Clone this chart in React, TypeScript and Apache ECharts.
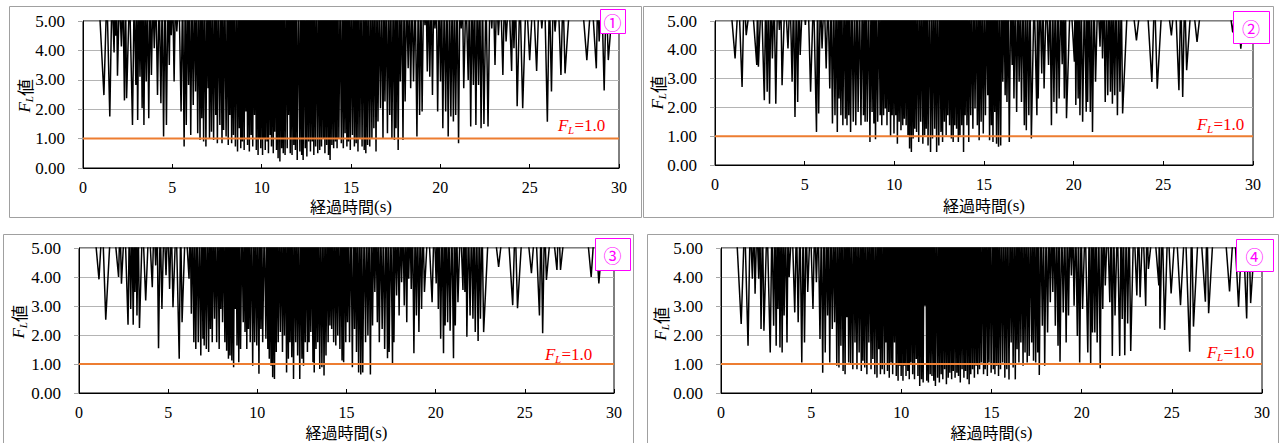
import React, { useEffect, useRef } from "react";
import * as echarts from "echarts";

// ---- data (dip minima of FL; between dips FL is off-scale, above 5) ----
const P1_T = [1.17,1.5,1.74,1.83,1.93,2.15,2.32,2.44,2.77,2.96,3.06,3.19,3.31,3.41,3.54,3.68,3.83,3.99,4.17,4.36,4.51,4.67,4.83,4.94,5.1,5.25,5.49,5.66,5.78,5.91,6.03,6.17,6.3,6.42,6.55,6.65,6.75,6.88,7.0,7.08,7.19,7.31,7.43,7.52,7.66,7.78,7.87,8.01,8.13,8.22,8.32,8.42,8.53,8.65,8.75,8.83,8.92,9.02,9.12,9.21,9.31,9.41,9.5,9.6,9.7,9.8,9.87,9.95,10.05,10.13,10.2,10.3,10.38,10.48,10.55,10.65,10.73,10.83,10.92,11.02,11.12,11.21,11.31,11.43,11.5,11.6,11.7,11.8,11.89,11.99,12.14,12.24,12.32,12.44,12.53,12.63,12.73,12.83,12.92,13.02,13.14,13.25,13.35,13.45,13.54,13.64,13.74,13.83,13.93,14.03,14.13,14.22,14.32,14.46,14.57,14.67,14.77,14.86,14.96,15.08,15.19,15.29,15.39,15.5,15.62,15.74,15.83,15.93,16.05,16.17,16.28,16.4,16.51,16.65,16.79,16.9,17.04,17.17,17.29,17.43,17.52,17.64,17.76,17.91,18.03,18.2,18.34,18.5,18.69,18.84,18.98,19.14,19.27,19.41,19.56,19.7,19.85,20.01,20.14,20.3,20.44,20.59,20.73,20.86,21.02,21.17,21.31,21.56,21.7,21.85,21.99,22.14,22.28,22.44,22.67,22.88,23.06,23.25,23.5,23.68,23.99,24.12,24.3,24.61,25.0,25.39,25.68,25.99,26.22,26.42,26.75,26.98,28.2,28.73,28.89,29.17,29.4];
const P1_V = [2.48,1.75,3.93,4.5,3.14,4.13,2.3,2.37,1.46,2.82,1.63,3.1,2.03,1.46,2.94,1.69,3.16,4.07,2.48,2.2,1.07,1.46,3.5,4.52,2.94,4.64,1.92,0.73,1.46,2.82,1.12,2.14,2.6,1.18,0.95,1.69,0.9,0.73,2.71,1.01,1.23,0.95,1.8,0.84,1.46,0.84,1.29,1.07,0.78,1.8,0.84,1.12,0.73,0.56,1.35,0.67,0.9,0.61,1.92,0.78,0.56,1.12,0.73,1.8,0.61,0.44,1.01,0.67,0.44,1.01,0.61,0.9,0.5,1.12,0.73,0.5,1.23,0.61,0.33,0.22,0.67,0.5,0.44,0.67,1.8,0.5,0.44,0.78,0.61,0.27,0.56,0.44,0.27,0.67,0.39,0.9,0.56,0.9,0.44,0.73,0.5,0.61,0.73,1.01,0.5,0.78,0.44,0.27,0.78,0.67,0.9,0.67,1.01,0.84,0.67,1.18,0.73,0.9,0.61,1.12,0.73,0.84,0.56,1.01,0.73,0.61,0.5,0.78,0.73,1.01,1.35,0.56,1.58,2.03,1.01,2.26,1.18,1.8,1.01,0.95,1.35,0.61,2.94,0.95,2.26,3.39,2.71,2.94,1.07,1.8,1.92,4.86,3.28,3.1,2.48,4.75,1.92,2.94,1.35,1.92,1.07,1.75,1.58,1.8,0.84,4.75,2.71,2.99,1.41,2.82,1.46,2.82,1.35,1.5,1.41,4.75,3.5,4.52,3.16,4.3,3.3,4.07,2.1,2.03,3.67,3.3,4.75,1.57,2.6,4.64,3.16,3.22,3.67,3.39,4.3,2.64,3.67];

const P2_T = [1.12,1.51,1.74,2.33,2.42,2.75,2.91,3.04,3.2,3.39,3.59,3.74,4.07,4.3,4.46,4.61,4.75,5.04,5.33,5.66,5.78,5.97,6.2,6.4,6.55,6.69,6.82,6.92,7.02,7.13,7.27,7.36,7.46,7.56,7.71,7.85,7.98,8.14,8.28,8.37,8.49,8.64,8.76,8.86,8.95,9.07,9.21,9.3,9.4,9.5,9.59,9.69,9.79,9.88,9.98,10.08,10.17,10.27,10.37,10.47,10.56,10.66,10.76,10.85,10.95,11.05,11.14,11.24,11.36,11.47,11.59,11.69,11.78,11.88,12.02,12.13,12.25,12.36,12.48,12.6,12.69,12.79,12.89,12.98,13.08,13.18,13.28,13.37,13.47,13.57,13.66,13.76,13.86,13.95,14.05,14.15,14.26,14.38,14.5,14.63,14.73,14.84,14.96,15.08,15.21,15.31,15.41,15.5,15.6,15.7,15.81,15.93,16.05,16.18,16.28,16.41,16.57,16.67,16.82,16.96,17.09,17.25,17.36,17.5,17.64,17.95,18.02,18.22,18.35,18.6,18.76,18.9,19.05,19.19,19.36,19.48,19.6,20.04,20.12,20.25,20.35,20.5,20.7,20.78,20.93,21.05,21.22,21.47,21.61,21.76,21.9,22.05,22.16,22.29,22.44,22.58,22.73,23.5,24.36,24.66,25.45,25.87,26.08,26.3,26.88,28.87,29.32];
const P2_V = [3.7,2.71,4.51,3.47,3.41,2.25,2.54,2.13,3.7,2.13,4.69,2.77,4.05,2.89,1.67,2.19,3.82,4.86,2.54,1.15,1.79,4.05,3.35,2.66,1.44,1.73,1.15,2.31,1.73,1.38,1.61,1.38,1.73,1.15,1.5,1.38,1.84,1.38,1.73,1.5,1.5,0.8,1.84,1.44,0.89,1.5,1.73,1.38,1.73,1.96,1.38,1.84,0.97,1.73,1.09,1.73,0.74,1.5,1.21,1.38,1.61,1.38,1.03,0.57,0.45,0.92,1.26,1.15,0.8,1.5,0.74,1.03,1.26,0.68,0.45,0.92,1.26,0.45,0.68,1.15,0.8,1.5,1.03,1.73,1.38,0.92,0.8,1.38,1.26,0.8,1.03,1.38,0.45,1.73,1.38,0.8,1.73,1.26,1.96,1.38,0.86,1.5,1.09,1.73,2.42,0.86,1.38,0.8,1.84,0.74,0.63,0.68,2.89,2.42,2.19,0.8,3.47,2.31,1.84,2.89,2.19,1.38,1.21,1.73,0.92,1.73,2.31,3.18,2.66,3.47,1.38,2.19,1.79,2.31,3.5,2.31,1.62,3.59,2.08,2.31,1.73,1.5,1.85,2.19,1.84,1.15,2.89,4.11,3.7,2.19,2.42,2.54,2.13,2.42,1.73,2.54,1.79,4.33,2.88,2.65,4.5,2.6,2.36,3.29,4.27,4.6,4.04];

const P3_T = [1.12,1.5,2.22,2.38,2.75,2.9,3.04,3.14,3.25,3.39,3.74,4.11,4.3,4.46,4.65,4.88,5.08,5.27,5.62,5.78,6.17,6.3,6.44,6.55,6.69,6.83,6.95,7.02,7.14,7.27,7.37,7.47,7.6,7.72,7.86,7.95,8.05,8.18,8.28,8.38,8.47,8.57,8.67,8.76,8.86,8.96,9.06,9.21,9.31,9.41,9.5,9.6,9.74,9.85,9.97,10.09,10.2,10.3,10.48,10.59,10.67,10.77,10.86,10.96,11.06,11.17,11.29,11.41,11.52,11.64,11.74,11.83,11.93,12.03,12.15,12.26,12.38,12.5,12.59,12.69,12.81,12.9,13.0,13.12,13.19,13.29,13.39,13.5,13.62,13.74,13.85,13.97,14.07,14.17,14.28,14.4,14.51,14.63,14.75,14.84,14.96,15.06,15.17,15.33,15.45,15.56,15.68,15.8,15.91,16.07,16.2,16.34,16.46,16.59,16.73,16.84,17.0,17.14,17.3,17.39,17.58,17.66,17.81,17.95,18.09,18.24,18.38,18.49,18.63,18.78,18.92,19.06,19.21,19.37,19.8,20.03,20.15,20.28,20.44,20.53,20.67,20.81,21.0,21.1,21.25,21.53,21.64,21.75,21.93,22.09,22.22,22.38,22.51,22.69,23.53,24.32,24.59,25.37,25.82,26.0,26.21,26.8,27.0,28.72,29.15];
const P3_V = [3.92,2.53,4.0,3.77,2.35,2.9,2.35,3.48,2.67,2.24,3.19,3.65,4.4,1.54,2.9,4.06,3.59,2.96,1.18,2.44,3.94,2.73,1.75,1.52,1.75,1.29,1.87,1.64,1.52,1.41,2.21,1.75,2.56,1.75,1.52,2.9,2.44,1.75,1.46,1.18,1.29,1.12,0.89,2.9,1.64,1.06,1.52,2.44,2.1,1.52,2.21,1.75,0.94,1.75,1.64,0.66,2.21,1.75,1.87,1.52,1.18,0.94,0.54,0.48,1.41,1.75,2.1,1.41,1.98,0.71,1.18,1.75,1.23,0.48,1.75,1.29,0.48,1.18,0.94,1.75,1.41,1.75,2.1,1.06,0.71,1.52,1.75,0.83,0.89,0.6,1.29,1.75,2.33,2.21,1.75,1.64,1.98,1.52,1.12,1.06,1.75,2.44,1.75,0.89,2.21,1.41,0.71,0.64,0.71,1.75,1.98,0.64,2.33,3.48,2.44,1.75,2.21,1.52,1.2,1.41,1.02,1.75,3.36,2.67,3.82,3.02,2.44,3.94,3.59,1.37,2.67,2.1,2.9,3.48,3.13,3.78,2.9,1.87,1.37,2.33,2.44,2.15,1.2,2.33,3.13,3.55,3.48,1.94,2.67,2.56,2.1,1.79,2.56,2.1,4.35,3.03,2.92,4.13,2.67,2.06,3.9,4.24,4.24,4.0,3.78];

const P4_T = [1.12,1.5,1.74,1.89,2.09,2.22,2.38,2.73,2.92,3.06,3.16,3.27,3.39,3.5,3.66,3.78,4.09,4.28,4.48,4.63,4.81,5.1,5.29,5.49,5.64,5.78,5.91,6.03,6.17,6.3,6.42,6.54,6.65,6.77,6.88,6.98,7.08,7.19,7.31,7.43,7.54,7.66,7.78,7.87,7.97,8.09,8.2,8.32,8.42,8.53,8.65,8.75,8.84,8.94,9.06,9.14,9.23,9.33,9.43,9.52,9.62,9.72,9.82,9.91,9.99,10.09,10.17,10.26,10.36,10.44,10.53,10.63,10.73,10.83,10.92,11.02,11.12,11.21,11.31,11.41,11.5,11.6,11.7,11.8,11.89,12.01,12.11,12.21,12.3,12.4,12.5,12.6,12.69,12.79,12.88,12.98,13.08,13.17,13.27,13.37,13.47,13.56,13.66,13.76,13.85,13.95,14.05,14.15,14.24,14.34,14.44,14.56,14.65,14.77,14.86,14.98,15.1,15.19,15.29,15.39,15.5,15.62,15.74,15.85,15.97,16.09,16.2,16.32,16.42,16.52,16.63,16.75,16.86,16.98,17.09,17.23,17.33,17.45,17.56,17.65,17.82,17.95,18.11,18.26,18.4,18.54,18.69,18.8,18.98,19.14,19.27,19.43,19.58,19.76,19.89,20.05,20.34,20.5,20.6,20.73,20.86,21.03,21.17,21.31,21.56,21.7,21.85,22.11,22.25,22.39,22.55,22.72,23.06,23.24,23.55,23.7,24.28,24.34,24.6,24.96,25.48,25.99,26.2,26.86,27.04,28.2,28.7,29.15,29.37];
const P4_V = [2.38,1.63,3.94,3.42,3.94,2.21,2.15,1.4,2.32,1.63,2.9,1.57,1.4,2.67,1.74,4.0,2.78,2.44,1.05,1.74,3.48,2.9,3.82,1.86,0.7,1.4,2.67,1.05,2.21,2.44,0.94,0.88,1.63,0.76,0.65,2.61,1.05,0.99,0.82,1.74,0.82,1.4,0.76,1.11,0.88,0.65,1.74,0.82,1.17,0.65,0.53,1.51,0.65,0.82,0.65,1.74,0.76,0.53,1.05,0.65,1.74,0.59,0.42,0.94,0.59,0.42,0.94,0.59,0.76,0.47,1.05,0.65,0.47,1.17,0.59,0.24,0.47,0.36,3.01,0.42,0.36,0.65,0.59,0.42,0.24,0.53,0.36,0.65,0.47,0.82,0.3,0.53,0.7,0.47,0.76,0.53,0.7,0.59,0.36,0.82,0.53,0.76,0.47,0.3,0.65,0.82,0.53,0.94,0.65,0.82,1.05,0.65,0.82,0.59,1.05,0.7,0.82,0.65,0.94,0.59,0.82,1.05,0.53,0.82,0.47,1.74,0.88,0.47,1.51,1.05,1.74,0.94,1.4,1.05,1.28,1.74,1.11,1.05,1.4,0.62,2.32,0.94,2.09,3.13,3.48,2.32,1.63,1.08,2.78,1.74,2.67,4.05,3.01,1.97,1.05,2.9,1.4,1.02,2.09,2.09,1.74,0.85,2.9,3.71,3.13,1.28,2.67,1.28,2.55,1.3,2.4,1.45,3.36,3.3,3.0,4.28,3.71,2.22,2.17,3.43,3.03,1.42,2.29,3.15,2.75,3.5,2.97,2.57,3.1];

const X_TICKS = [0, 5, 10, 15, 20, 25, 30];
const Y_TICKS = [0, 1, 2, 3, 4, 5];
const FL_LIMIT = 1.0;
const PANEL_MARKS = ["①", "②", "③", "④"];
const X_TITLE = "経過時間";
const X_UNIT = "(s)";

const SERIES = [
  [P1_T, P1_V],
  [P2_T, P2_V],
  [P3_T, P3_V],
  [P4_T, P4_V],
];

// ---- layout (page pixels) ----
const LAYOUT = [
  { grid: { left: 83, top: 21, width: 536, height: 147 }, box: [9, 6, 632, 211], mark: [600, 9, 25, 24], fl: [558, 125], yt: [24, 96], xt: 206 },
  { grid: { left: 715, top: 21, width: 538, height: 144 }, box: [643, 6, 630, 211], mark: [1233, 11, 36, 32], fl: [1197, 124], yt: [657, 93], xt: 205 },
  { grid: { left: 79, top: 248, width: 535, height: 145 }, box: [3, 234, 630, 220], mark: [595, 238, 35, 32], fl: [545, 354], yt: [18, 322], xt: 432 },
  { grid: { left: 721, top: 248, width: 541, height: 145 }, box: [647, 234, 631, 220], mark: [1236, 239, 37, 32], fl: [1207, 352], yt: [660, 324], xt: 432 },
];

const SERIF = "Liberation Serif";
const CJK = "Noto Sans CJK JP";

// off-scale points between dips (the trace leaves the top of the axis there)
function buildTrace(ts: number[], vs: number[]) {
  const OFF = 6;
  const HALF = 0.3;
  const pts: number[][] = [[0, OFF]];
  for (let i = 0; i < ts.length; i++) {
    const prev = i > 0 ? ts[i - 1] : -1e9;
    const next = i < ts.length - 1 ? ts[i + 1] : 1e9;
    const dl = Math.min(HALF, (ts[i] - prev) / 2);
    const dr = Math.min(HALF, (next - ts[i]) / 2);
    pts.push([ts[i] - dl, OFF], [ts[i], vs[i]], [ts[i] + dr, OFF]);
  }
  pts.push([30, OFF]);
  return pts;
}

export default function App() {
  const ref = useRef<HTMLDivElement>(null);
  useEffect(() => {
    if (!ref.current) return;
    const chart = echarts.init(ref.current, undefined, { renderer: "svg" });
    const grids: any[] = [];
    const xAxes: any[] = [];
    const yAxes: any[] = [];
    const series: any[] = [];
    const graphics: any[] = [];

    LAYOUT.forEach((L, i) => {
      grids.push({ ...L.grid, show: true, borderColor: "#000", borderWidth: 1, backgroundColor: "transparent" });
      xAxes.push({
        type: "value", gridIndex: i, min: X_TICKS[0], max: X_TICKS[X_TICKS.length - 1], interval: 5,
        axisLine: { show: true, lineStyle: { color: "#000", width: 1 } },
        axisTick: { show: true, inside: true, length: 4, lineStyle: { color: "#000" } },
        axisLabel: { fontFamily: SERIF, fontSize: 16, color: "#000", margin: 11 },
        splitLine: { show: false },
      });
      yAxes.push({
        type: "value", gridIndex: i, min: Y_TICKS[0], max: Y_TICKS[Y_TICKS.length - 1], interval: 1,
        axisLine: { show: true, lineStyle: { color: "#000", width: 1 } },
        axisTick: { show: true, inside: false, length: 5, lineStyle: { color: "#a6a6a6" } },
        axisLabel: { fontFamily: SERIF, fontSize: 17, color: "#000", margin: 18, formatter: (v: number) => v.toFixed(2) },
        splitLine: { show: true, lineStyle: { color: "#b4b4b4", width: 1 } },
      });
      series.push({
        type: "line", xAxisIndex: i, yAxisIndex: i, data: buildTrace(SERIES[i][0], SERIES[i][1]),
        showSymbol: false, symbol: "none", clip: true, silent: true, z: 2,
        lineStyle: { color: "#000", width: 1.5 },
      });
      series.push({
        type: "line", xAxisIndex: i, yAxisIndex: i, data: [[0, FL_LIMIT], [30, FL_LIMIT]],
        showSymbol: false, symbol: "none", silent: true, z: 3,
        lineStyle: { color: "#ED7D31", width: 2 },
      });

      const [bx, by, bw, bh] = L.box;
      graphics.push({ type: "rect", z: -10, silent: true, shape: { x: bx + 0.5, y: by + 0.5, width: bw, height: bh }, style: { fill: "none", stroke: "#a0a0a0", lineWidth: 1 } });

      const [mx, my, mw, mh] = L.mark;
      graphics.push({ type: "rect", z: 50, silent: true, shape: { x: mx + 0.5, y: my + 0.5, width: mw, height: mh }, style: { fill: "#fff", stroke: "#ff00ff", lineWidth: 1 } });
      graphics.push({ type: "text", z: 51, silent: true, x: mx + mw / 2, y: my + mh / 2 + 1, style: { text: PANEL_MARKS[i], fill: "#ff00ff", fontFamily: CJK, fontSize: 18, align: "center", verticalAlign: "middle" } });

      const [fx, fy] = L.fl;
      graphics.push({
        type: "group", z: 50, x: fx, y: fy, silent: true,
        children: [
          { type: "text", x: 0, y: 0, style: { text: "F", fill: "#ff0000", fontFamily: SERIF, fontStyle: "italic", fontSize: 17, align: "left", verticalAlign: "middle" } },
          { type: "text", x: 10, y: 5, style: { text: "L", fill: "#ff0000", fontFamily: SERIF, fontStyle: "italic", fontSize: 11, align: "left", verticalAlign: "middle" } },
          { type: "text", x: 16.5, y: 0, style: { text: "=" + FL_LIMIT.toFixed(1), fill: "#ff0000", fontFamily: SERIF, fontSize: 17, align: "left", verticalAlign: "middle" } },
        ],
      });

      const [tx, ty] = L.yt;
      graphics.push({
        type: "group", z: 50, x: tx, y: ty, rotation: Math.PI / 2, silent: true,
        children: [
          { type: "text", x: -16.5, y: 0, style: { text: "F", fill: "#000", fontFamily: SERIF, fontStyle: "italic", fontSize: 17, align: "left", verticalAlign: "middle" } },
          { type: "text", x: -6.3, y: 5, style: { text: "L", fill: "#000", fontFamily: SERIF, fontStyle: "italic", fontSize: 11, align: "left", verticalAlign: "middle" } },
          { type: "text", x: 0, y: 0, style: { text: "値", fill: "#000", fontFamily: CJK, fontSize: 17, align: "left", verticalAlign: "middle" } },
        ],
      });

      graphics.push({
        type: "text", z: 50, silent: true, x: L.grid.left + L.grid.width / 2, y: L.xt,
        style: {
          text: `{a|${X_TITLE}}{b|${X_UNIT}}`, align: "center", verticalAlign: "middle",
          rich: {
            a: { fontFamily: CJK, fontSize: 16, fill: "#000", lineHeight: 17 },
            b: { fontFamily: SERIF, fontSize: 17, fill: "#000", lineHeight: 17 },
          },
        },
      });
    });

    chart.setOption({
      animation: false,
      backgroundColor: "#fff",
      textStyle: { fontFamily: SERIF },
      grid: grids,
      xAxis: xAxes,
      yAxis: yAxes,
      series,
      graphic: { elements: graphics },
    });
    return () => chart.dispose();
  }, []);
  return <div ref={ref} style={{ position: "absolute", left: 0, top: 0, width: 1280, height: 443 }} />;
}
